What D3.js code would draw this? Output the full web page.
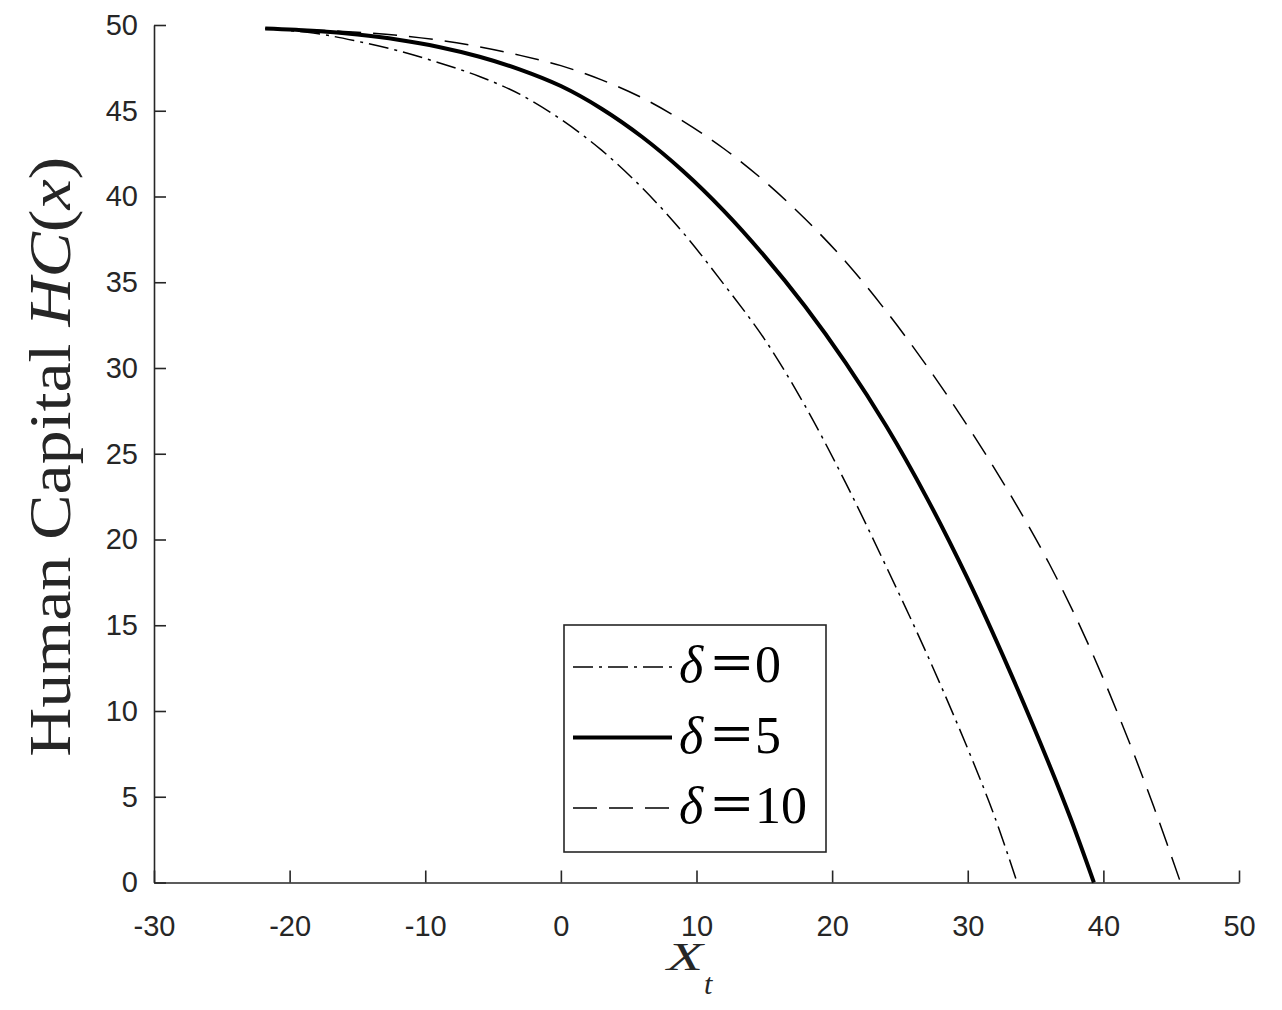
<!DOCTYPE html>
<html>
<head>
<meta charset="utf-8">
<script src="https://cdn.jsdelivr.net/npm/d3@7"></script>
<style>
	body { margin: 0; background: #fff; }
	.axis path, .axis line { stroke: #262626; stroke-width: 1.6; }
	.axis text { font-family: "Liberation Sans", Arial, sans-serif; font-size: 29px; fill: #262626; }
</style>
</head>
<body>
<div id="chart"></div>
<script>
// series (delta = 0, 5, 10)
var x0 = [-21.8, -18, -15, -12, -9, -6, -3, 0, 3, 6, 9, 12, 15, 18, 21, 24, 27, 30, 32, 33.64],
	y0 = [49.8, 49.5, 49.05, 48.5, 47.8, 47.0, 45.95, 44.5, 42.7, 40.5, 37.9, 34.9, 31.7, 27.8, 23.3, 18.4, 13.3, 7.8, 3.8, 0];

var x5 = [-21.8, -18, -15, -12, -9, -6, -3, 0, 3, 6, 9, 12, 15, 18, 21, 24, 27, 30, 33, 36, 37.6, 39.3],
	y5 = [49.8, 49.65, 49.44, 49.14, 48.72, 48.15, 47.4, 46.44, 45.12, 43.47, 41.49, 39.18, 36.54, 33.6, 30.3, 26.6, 22.4, 17.7, 12.5, 6.9, 3.7, 0];

var x10 = [-21.8, -18, -15, -12, -9, -6, -3, 0, 3, 6, 9, 12, 15, 18, 21, 24, 27, 30, 33, 36, 39, 42, 44, 45.69],
	y10 = [49.8, 49.7, 49.58, 49.4, 49.12, 48.73, 48.23, 47.63, 46.8, 45.75, 44.4, 42.8, 40.9, 38.7, 36.2, 33.3, 30.1, 26.6, 22.8, 18.6, 13.7, 8.0, 3.8, 0];

var xTicks = [-30, -20, -10, 0, 10, 20, 30, 40, 50],
	yTicks = [0, 5, 10, 15, 20, 25, 30, 35, 40, 45, 50];

var legendDigits = ["0", "5", "10"];

var W = 1282, H = 1010,
	plotLeft = 154, plotRight = 1239, plotTop = 25, plotBottom = 882.5;

var svg = d3.select("#chart").append("svg")
	.attr("width", W)
	.attr("height", H);

var x = d3.scaleLinear().domain([-30, 50]).range([plotLeft, plotRight]);
var y = d3.scaleLinear().domain([0, 50]).range([plotBottom, plotTop]);

var plain = function(d) { return String(d); };

/* Axes */

svg.append("g")
	.attr("class", "axis axis--x")
	.attr("transform", "translate(0," + plotBottom + ")")
	.call(d3.axisBottom(x).tickValues(xTicks).tickFormat(plain)
		.tickSizeInner(-12).tickSizeOuter(0).tickPadding(33));

svg.append("g")
	.attr("class", "axis axis--y")
	.attr("transform", "translate(" + plotLeft + ",0)")
	.call(d3.axisLeft(y).tickValues(yTicks).tickFormat(plain)
		.tickSizeInner(-12).tickSizeOuter(0).tickPadding(16));

/* Curves */

var series = [
	{xs: x0, ys: y0, width: 1.5, dash: "20,6,3,6"},
	{xs: x5, ys: y5, width: 4, dash: null},
	{xs: x10, ys: y10, width: 1.5, dash: "24,12"}
];

var line = d3.line()
	.x(function(d) { return x(d[0]); })
	.y(function(d) { return y(d[1]); })
	.curve(d3.curveCatmullRom.alpha(0.5));

series.forEach(function(s) {
	var pts = s.xs.map(function(v, i) { return [v, s.ys[i]]; });
	svg.append("path")
		.datum(pts)
		.attr("fill", "none")
		.attr("stroke", "#000")
		.attr("stroke-width", s.width)
		.attr("stroke-dasharray", s.dash)
		.attr("d", line);
});

/* Legend */

var legend = svg.append("g");

legend.append("rect")
	.attr("x", 564).attr("y", 625)
	.attr("width", 262).attr("height", 227)
	.attr("fill", "#fff")
	.attr("stroke", "#262626")
	.attr("stroke-width", 1.6);

var rowY = [682, 752.5, 823];

series.forEach(function(s, i) {
	legend.append("line")
		.attr("x1", 573).attr("x2", 672)
		.attr("y1", rowY[i] - 15).attr("y2", rowY[i] - 15)
		.attr("stroke", "#000")
		.attr("stroke-width", s.width)
		.attr("stroke-dasharray", s.dash);

	legend.append("text")
		.attr("x", 679).attr("y", rowY[i])
		.attr("font-family", "Liberation Serif, serif")
		.attr("font-style", "italic")
		.attr("font-size", 52)
		.text("δ");

	legend.append("text")
		.attr("x", 711).attr("y", rowY[i] - 2)
		.attr("font-family", "Liberation Serif, serif")
		.attr("font-weight", "bold")
		.attr("font-size", 52)
		.attr("textLength", 42)
		.attr("lengthAdjust", "spacingAndGlyphs")
		.text("=");

	legend.append("text")
		.attr("x", 755).attr("y", rowY[i])
		.attr("font-family", "Liberation Serif, serif")
		.attr("font-size", 52)
		.text(legendDigits[i]);
});

/* Labels */

var ylab = svg.append("text")
	.attr("transform", "translate(70," + ((plotTop + plotBottom) / 2 + 3) + ") rotate(-90)")
	.attr("text-anchor", "middle")
	.attr("font-family", "Liberation Serif, serif")
	.attr("font-size", 59)
	.attr("fill", "#262626")
	.attr("textLength", 600)
	.attr("lengthAdjust", "spacingAndGlyphs");
ylab.append("tspan").text("Human Capital ");
ylab.append("tspan").attr("font-style", "italic").text("HC");
ylab.append("tspan").text("(");
ylab.append("tspan").attr("font-style", "italic").text("x");
ylab.append("tspan").text(")");

svg.append("text")
	.attr("x", 667).attr("y", 970)
	.attr("font-family", "Liberation Serif, serif")
	.attr("font-style", "italic")
	.attr("font-size", 39)
	.attr("fill", "#262626")
	.attr("textLength", 36)
	.attr("lengthAdjust", "spacingAndGlyphs")
	.text("X");

svg.append("text")
	.attr("x", 704).attr("y", 994)
	.attr("font-family", "Liberation Serif, serif")
	.attr("font-style", "italic")
	.attr("font-size", 30)
	.attr("fill", "#262626")
	.text("t");
</script>
</body>
</html>
